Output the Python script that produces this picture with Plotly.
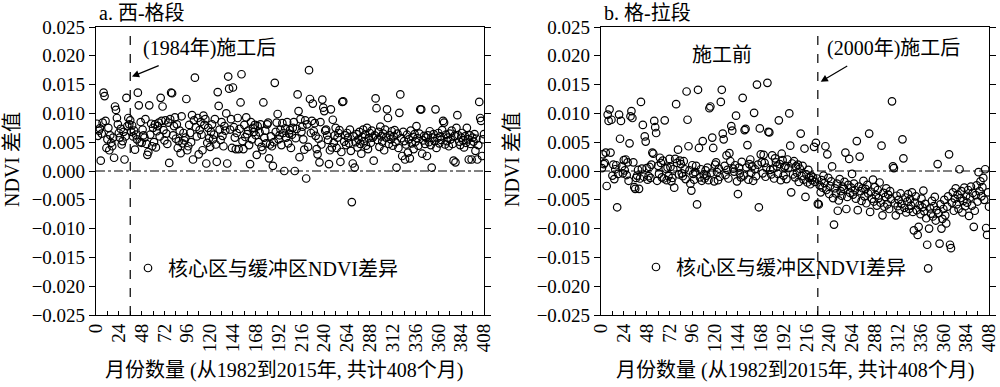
import plotly.graph_objects as go

# ---------------- data ----------------
months = list(range(1, 409))

# Panel a: 西-格段  (core minus buffer NDVI difference)
ndvi_diff_a = [
    0.0082, 0.0061, 0.0070, 0.0074, 0.0018, 0.0065, 0.0084, 0.0136, 0.0130, 0.0087, 0.0040, 0.0055,
    0.0075, 0.0036, 0.0062, 0.0049, 0.0043, 0.0058, 0.0023, 0.0112, 0.0106, 0.0092, 0.0081, 0.0066,
    0.0058, 0.0073, 0.0046, 0.0052, 0.0068, 0.0020, 0.0060, 0.0127, 0.0078, 0.0092, 0.0081, 0.0088,
    0.0068, 0.0079, 0.0060, 0.0070, 0.0037, 0.0063, 0.0055, 0.0136, 0.0114, 0.0050, 0.0085, 0.0049,
    0.0072, 0.0062, 0.0058, 0.0090, 0.0047, 0.0028, 0.0033, 0.0114, 0.0063, 0.0082, 0.0043, 0.0075,
    0.0050, 0.0081, 0.0041, 0.0069, 0.0078, 0.0084, 0.0060, 0.0127, 0.0087, 0.0112, 0.0071, 0.0053,
    0.0088, 0.0065, 0.0047, 0.0084, 0.0014, 0.0090, 0.0136, 0.0135, 0.0062, 0.0078, 0.0093, 0.0056,
    0.0081, 0.0040, 0.0052, 0.0070, 0.0031, 0.0095, 0.0048, 0.0066, 0.0053, 0.0058, 0.0125, 0.0036,
    0.0043, 0.0080, 0.0066, 0.0050, 0.0097, 0.0020, 0.0088, 0.0162, 0.0076, 0.0060, 0.0092, 0.0029,
    0.0071, 0.0085, 0.0063, 0.0036, 0.0096, 0.0080, 0.0090, 0.0013, 0.0049, 0.0075, 0.0057, 0.0042,
    0.0068, 0.0081, 0.0055, 0.0063, 0.0090, 0.0046, 0.0016, 0.0137, 0.0113, 0.0072, 0.0054, 0.0085,
    0.0061, 0.0043, 0.0078, 0.0070, 0.0100, 0.0013, 0.0164, 0.0143, 0.0072, 0.0090, 0.0040, 0.0145,
    0.0076, 0.0058, 0.0038, 0.0066, 0.0092, 0.0038, 0.0073, 0.0119, 0.0168, 0.0052, 0.0038, 0.0080,
    0.0059, 0.0093, 0.0064, 0.0070, 0.0045, 0.0012, 0.0085, 0.0055, 0.0075, 0.0068, 0.0080, 0.0062,
    0.0028, 0.0078, 0.0050, 0.0067, 0.0081, 0.0042, 0.0036, 0.0119, 0.0058, 0.0070, 0.0048, 0.0081,
    0.0084, 0.0022, 0.0046, 0.0060, 0.0043, 0.0009, 0.0050, 0.0153, 0.0068, 0.0084, 0.0099, 0.0055,
    0.0062, 0.0072, 0.0045, 0.0083, 0.0066, 0.0000, 0.0074, 0.0058, 0.0085, 0.0048, 0.0065, 0.0071,
    0.0040, 0.0063, 0.0075, 0.0085, 0.0000, 0.0057, 0.0073, 0.0133, 0.0104, 0.0024, 0.0090, 0.0068,
    0.0077, 0.0055, 0.0037, 0.0088, -0.0013, 0.0081, 0.0042, 0.0175, 0.0125, 0.0066, 0.0087, 0.0117,
    0.0069, 0.0083, 0.0061, 0.0038, 0.0029, 0.0056, 0.0015, 0.0085, 0.0046, 0.0124, 0.0110, 0.0104,
    0.0070, 0.0072, 0.0062, 0.0054, 0.0012, 0.0036, 0.0107, 0.0041, 0.0089, 0.0049, 0.0062, 0.0075,
    0.0040, 0.0058, 0.0066, 0.0071, 0.0016, 0.0033, 0.0120, 0.0121, 0.0051, 0.0062, 0.0045, 0.0066,
    0.0058, 0.0048, 0.0072, 0.0035, -0.0054, 0.0013, 0.0060, 0.0006, 0.0050, 0.0064, 0.0041, 0.0055,
    0.0068, 0.0047, 0.0030, 0.0059, 0.0072, 0.0052, 0.0063, 0.0044, 0.0075, 0.0038, 0.0057, 0.0066,
    0.0049, 0.0070, 0.0058, 0.0018, 0.0062, 0.0126, 0.0109, 0.0054, 0.0068, 0.0042, 0.0077, 0.0060,
    0.0051, 0.0065, 0.0036, 0.0072, 0.0058, 0.0107, 0.0092, 0.0047, 0.0062, 0.0055, 0.0069, 0.0044,
    0.0060, 0.0071, 0.0050, 0.0006, 0.0065, 0.0040, 0.0101, 0.0133, 0.0057, 0.0026, 0.0068, 0.0052,
    0.0020, 0.0046, 0.0063, 0.0032, 0.0055, 0.0022, 0.0070, 0.0048, 0.0059, 0.0038, 0.0064, 0.0051,
    0.0078, 0.0057, 0.0044, 0.0065, 0.0107, 0.0107, 0.0030, 0.0053, 0.0061, 0.0047, 0.0058, 0.0026,
    0.0062, 0.0050, 0.0069, 0.0045, 0.0006, 0.0058, 0.0064, 0.0052, 0.0107, 0.0040, 0.0057, 0.0066,
    0.0048, 0.0060, 0.0054, 0.0071, 0.0087, 0.0084, 0.0046, 0.0063, 0.0052, 0.0058, 0.0043, 0.0065,
    0.0055, 0.0070, 0.0047, 0.0018, 0.0061, 0.0015, 0.0075, 0.0097, 0.0062, 0.0051, 0.0045, 0.0058,
    0.0066, 0.0053, 0.0041, 0.0060, 0.0049, 0.0075, 0.0055, 0.0020, 0.0062, 0.0047, 0.0020, 0.0058,
    0.0051, 0.0064, 0.0035, 0.0056, 0.0020, 0.0045, 0.0120, 0.0092, 0.0087, 0.0026, 0.0055, 0.0064,
]

# Panel b: 格-拉段
ndvi_diff_b = [
    0.0005, 0.0029, 0.0012, 0.0014, 0.0032, -0.0026, 0.0098, 0.0087, 0.0107, 0.0032, 0.0089, -0.0008,
    0.0011, -0.0014, 0.0003, 0.0010, -0.0063, -0.0005, 0.0098, 0.0056, 0.0087, 0.0008, -0.0004, 0.0019,
    0.0001, 0.0020, -0.0007, 0.0015, -0.0017, 0.0048, 0.0095, 0.0104, 0.0092, 0.0015, -0.0028, -0.0031,
    -0.0012, -0.0008, 0.0002, -0.0031, -0.0013, 0.0120, 0.0004, 0.0080, -0.0010, 0.0060, 0.0051, 0.0005,
    -0.0015, -0.0009, 0.0007, -0.0012, 0.0011, 0.0032, 0.0030, 0.0087, 0.0076, 0.0066, -0.0017, 0.0009,
    -0.0005, 0.0023, 0.0014, -0.0011, 0.0018, -0.0013, 0.0088, 0.0004, -0.0016, 0.0006, -0.0009, 0.0021,
    0.0007, -0.0018, -0.0012, 0.0003, -0.0029, 0.0021, 0.0116, 0.0014, 0.0037, -0.0006, 0.0018, 0.0012,
    -0.0004, -0.0009, 0.0017, 0.0003, -0.0014, 0.0138, 0.0089, 0.0043, 0.0001, -0.0022, -0.0034, 0.0010,
    -0.0005, -0.0015, -0.0002, 0.0009, -0.0058, 0.0141, 0.0040, -0.0011, 0.0003, -0.0017, 0.0052, -0.0006,
    -0.0013, 0.0001, -0.0008, 0.0006, -0.0016, 0.0109, 0.0112, -0.0003, 0.0058, 0.0040, -0.0018, 0.0011,
    0.0015, -0.0002, -0.0016, 0.0004, -0.0010, 0.0120, 0.0141, 0.0065, 0.0055, 0.0009, -0.0007, 0.0027,
    0.0002, -0.0013, 0.0031, 0.0017, 0.0078, 0.0070, 0.0004, -0.0001, 0.0010, 0.0096, -0.0018, -0.0040,
    0.0006, -0.0004, -0.0011, 0.0016, 0.0127, -0.0008, 0.0071, 0.0073, 0.0006, 0.0045, -0.0015, 0.0012,
    0.0020, -0.0003, 0.0008, -0.0017, 0.0101, 0.0003, -0.0009, 0.0150, 0.0011, -0.0063, 0.0074, 0.0029,
    0.0015, -0.0004, 0.0028, 0.0014, -0.0010, 0.0006, 0.0153, 0.0068, 0.0067, 0.0002, -0.0006, 0.0027,
    0.0004, -0.0013, 0.0022, 0.0015, 0.0008, -0.0005, 0.0088, 0.0012, -0.0016, 0.0030, 0.0019, -0.0008,
    0.0006, 0.0009, -0.0014, 0.0020, 0.0005, 0.0100, 0.0044, -0.0037, 0.0013, -0.0006, 0.0017, -0.0011,
    0.0008, -0.0003, 0.0011, -0.0019, 0.0004, 0.0065, -0.0009, 0.0009, -0.0015, 0.0039, -0.0045, -0.0006,
    -0.0020, 0.0002, -0.0012, -0.0023, -0.0008, -0.0016, -0.0011, 0.0042, -0.0019, 0.0049, -0.0013, -0.0057,
    -0.0058, -0.0025, -0.0037, -0.0016, -0.0029, -0.0008, -0.0021, 0.0043, -0.0033, 0.0029, -0.0012, -0.0040,
    -0.0026, -0.0018, 0.0008, -0.0047, -0.0093, -0.0030, -0.0039, -0.0022, -0.0069, -0.0051, -0.0014, -0.0035,
    -0.0043, -0.0027, -0.0031, -0.0019, 0.0032, -0.0066, -0.0045, -0.0024, 0.0021, -0.0038, -0.0029, -0.0005,
    -0.0041, -0.0022, -0.0033, -0.0048, 0.0052, -0.0068, -0.0027, 0.0025, -0.0035, -0.0052, -0.0030, -0.0017,
    -0.0044, -0.0031, -0.0056, -0.0024, -0.0039, 0.0065, -0.0071, -0.0036, -0.0048, -0.0015, -0.0053, -0.0028,
    -0.0042, -0.0060, -0.0033, -0.0047, -0.0020, -0.0055, 0.0044, -0.0077, -0.0038, -0.0062, -0.0045, -0.0030,
    -0.0058, -0.0041, -0.0066, -0.0035, -0.0049, 0.0121, 0.0008, 0.0005, -0.0056, -0.0077, -0.0043, -0.0061,
    -0.0050, -0.0068, -0.0039, -0.0057, 0.0055, 0.0022, -0.0064, -0.0046, -0.0072, -0.0053, -0.0040, -0.0066,
    -0.0049, -0.0060, -0.0037, -0.0071, -0.0103, -0.0055, -0.0044, -0.0068, -0.0111, -0.0097, -0.0059, -0.0075,
    -0.0048, -0.0063, -0.0034, -0.0070, -0.0057, -0.0082, -0.0128, -0.0169, -0.0100, -0.0065, -0.0074, -0.0052,
    -0.0079, -0.0061, -0.0045, -0.0086, -0.0068, 0.0012, -0.0073, -0.0126, -0.0058, -0.0100, -0.0083, -0.0066,
    -0.0050, -0.0077, -0.0091, -0.0062, -0.0044, 0.0029, -0.0128, -0.0134, -0.0055, -0.0037, -0.0069, -0.0048,
    -0.0030, -0.0058, -0.0041, -0.0066, 0.0003, -0.0047, -0.0035, -0.0072, -0.0052, -0.0029, -0.0061, -0.0043,
    -0.0055, -0.0033, -0.0078, -0.0046, -0.0027, -0.0060, -0.0038, -0.0097, -0.0069, -0.0042, -0.0025, -0.0053,
    -0.0002, -0.0035, -0.0018, -0.0044, -0.0028, -0.0012, -0.0050, 0.0003, -0.0099, -0.0111, -0.0037, -0.0062,
]

construction_month_a = 36
construction_month_b = 228
x_tick_vals = list(range(0, 409, 24))
y_tick_vals = [-0.025, -0.020, -0.015, -0.010, -0.005, 0.0, 0.005, 0.010, 0.015, 0.020, 0.025]

legend_label = "核心区与缓冲区NDVI差异"
x_title = "月份数量 (从1982到2015年, 共计408个月)"
y_title = "NDVI 差值"

# ---------------- figure ----------------
W, H = 1000, 387
FONT = "Liberation Serif, 'Times New Roman', 'Noto Sans CJK SC', serif"
DX = -4  # small left shift of panel b so its last tick label stays inside the page


def px(x):
    return x / W


def py(y):
    return 1 - y / H


marker = dict(symbol="circle-open", size=7.5, color="black", line=dict(width=1.2, color="black"))

fig = go.Figure()
fig.add_trace(go.Scatter(x=months, y=ndvi_diff_a, mode="markers", marker=marker,
                         name=legend_label, xaxis="x", yaxis="y", legend="legend"))
fig.add_trace(go.Scatter(x=months, y=ndvi_diff_b, mode="markers", marker=marker,
                         name=legend_label, xaxis="x2", yaxis="y2", legend="legend2"))

xdom_a = [px(96), px(484)]
xdom_b = [px(605 + DX), px(993 + DX)]
ydom = [py(315), py(27)]

xcommon = dict(range=[0, 408], tickvals=x_tick_vals, ticks="inside", ticklen=4, tickwidth=1,
               tickcolor="black", tickangle=-90, showline=True, linecolor="black", linewidth=1.2,
               mirror=True, showgrid=False, zeroline=False, ticklabeloverflow="allow",
               minor=dict(dtick=12, tick0=0, ticks="inside", ticklen=4, tickcolor="black", showgrid=False),
               tickfont=dict(family=FONT, size=19, color="black"), automargin=False)
ycommon = dict(range=[-0.025, 0.025], tickvals=y_tick_vals, tickformat=".3f", ticks="outside",
               ticklen=6, tickwidth=1, tickcolor="black", showline=True, linecolor="black",
               linewidth=1.2, mirror="ticks", showgrid=False, zeroline=False,
               tickfont=dict(family=FONT, size=19, color="black"), automargin=False)

fig.update_layout(
    width=W, height=H, margin=dict(l=0, r=0, t=0, b=0),
    paper_bgcolor="white", plot_bgcolor="white",
    font=dict(family=FONT, color="black"),
    xaxis=dict(domain=xdom_a, anchor="y", **xcommon),
    yaxis=dict(domain=ydom, anchor="x", **ycommon),
    xaxis2=dict(domain=xdom_b, anchor="y2", **xcommon),
    yaxis2=dict(domain=ydom, anchor="x2", **ycommon),
    legend=dict(x=px(128), y=py(268), xanchor="left", yanchor="middle", bgcolor="rgba(0,0,0,0)",
                font=dict(family=FONT, size=20, color="black"), itemwidth=30),
    legend2=dict(x=px(640 + DX), y=py(267), xanchor="left", yanchor="middle", bgcolor="rgba(0,0,0,0)",
                 font=dict(family=FONT, size=20, color="black"), itemwidth=30),
    showlegend=True,
)

# reference lines
for xa, ya, m in (("x", "y", construction_month_a), ("x2", "y2", construction_month_b)):
    fig.add_shape(type="line", xref=xa, yref=f"{ya} domain", x0=m, x1=m, y0=0, y1=1,
                  line=dict(color="black", width=1.2, dash="dash"))
    fig.add_shape(type="line", xref=f"{xa} domain", yref=ya, x0=0, x1=1, y0=0, y1=0,
                  line=dict(color="black", width=1, dash="dashdot"))

ann_font = dict(family=FONT, size=20, color="black")
# panel titles
fig.add_annotation(text="a. 西-格段", xref="paper", yref="paper", x=px(97), y=py(13),
                   xanchor="left", yanchor="middle", showarrow=False, font=ann_font)
fig.add_annotation(text="b. 格-拉段", xref="paper", yref="paper", x=px(606 + DX), y=py(13),
                   xanchor="left", yanchor="middle", showarrow=False, font=ann_font)
# construction labels
fig.add_annotation(text="(1984年)施工后", xref="paper", yref="paper", x=px(141), y=py(48),
                   xanchor="left", yanchor="middle", showarrow=False, font=ann_font)
fig.add_annotation(text="施工前", xref="paper", yref="paper", x=px(726 + DX), y=py(55),
                   xanchor="center", yanchor="middle", showarrow=False, font=ann_font)
fig.add_annotation(text="(2000年)施工后", xref="paper", yref="paper", x=px(829 + DX), y=py(48),
                   xanchor="left", yanchor="middle", showarrow=False, font=ann_font)
# arrows
fig.add_annotation(x=37.8, y=0.0164, ax=67.5, ay=0.0184, xref="x", yref="y", axref="x", ayref="y",
                   text="", showarrow=True, arrowhead=2, arrowsize=1.2, arrowwidth=1.2, arrowcolor="black")
fig.add_annotation(x=231, y=0.0155, ax=260.5, ay=0.0184, xref="x2", yref="y2", axref="x2", ayref="y2",
                   text="", showarrow=True, arrowhead=2, arrowsize=1.2, arrowwidth=1.2, arrowcolor="black")
# axis titles
for cx in (284, 799 + DX):
    fig.add_annotation(text=x_title, xref="paper", yref="paper", x=px(cx), y=py(370),
                       xanchor="center", yanchor="middle", showarrow=False, font=ann_font)
for cx in (12, 516 + DX):
    fig.add_annotation(text=y_title, xref="paper", yref="paper", x=px(cx), y=py(160),
                       xanchor="center", yanchor="middle", showarrow=False, font=ann_font, textangle=-90)

fig.write_html("out.html", config={"displayModeBar": False},
               post_script="document.body.style.margin='0';document.body.style.padding='0';")
